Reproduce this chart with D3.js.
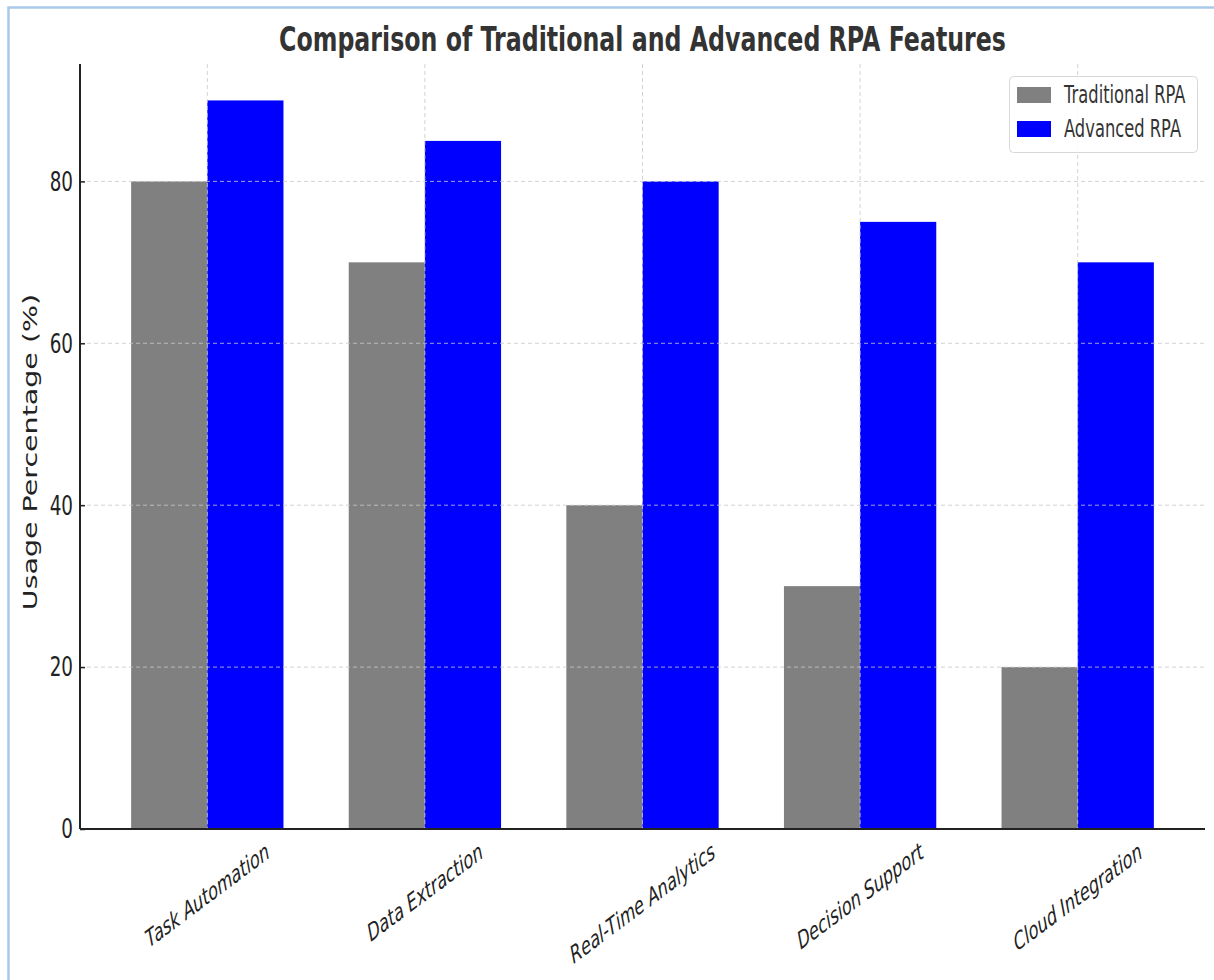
<!DOCTYPE html>
<html><head><meta charset="utf-8">
<script src="https://cdn.jsdelivr.net/npm/d3@7"></script>
<style>
body{margin:0;background:#fff;}
</style></head>
<body><svg id="c" width="1214" height="980"></svg>
<script>
const categories = ["Task Automation","Data Extraction","Real-Time Analytics","Decision Support","Cloud Integration"];
const traditional = [80,70,40,30,20];
const advanced = [90,85,80,75,70];
const seriesNames = ["Traditional RPA","Advanced RPA"];
const seriesColors = ["#808080","#0000ff"];
const yTicks = [0,20,40,60,80];

const FONT = "'DejaVu Sans', sans-serif";
const SX = 0.68; // horizontal squeeze of the reference picture

const svg = d3.select("#c");
svg.append("rect").attr("x",8.5).attr("y",7.5).attr("width",1300).attr("height",1100)
  .attr("fill","none").attr("stroke","#a9c9ea").attr("stroke-width",2.5);

const L=80, R=1205, T=64, B=829;
const x = d3.scaleLinear().domain([-0.585, categories.length-1+0.585]).range([L,R]);
const y = d3.scaleLinear().domain([0,94.5]).range([B,T]);
const bw = 0.35;

const g = svg.append("g");
const series = [traditional, advanced];
series.forEach((vals,si)=>{
  g.selectAll(".b"+si).data(vals).enter().append("rect")
    .attr("x",(d,i)=>x(i + (si===0?-bw:0)))
    .attr("width",x(bw)-x(0))
    .attr("y",d=>y(d))
    .attr("height",d=>y(0)-y(d))
    .attr("fill",seriesColors[si]);
});
// grid
g.selectAll(".hg").data(yTicks).enter().append("line")
  .attr("x1",L).attr("x2",R).attr("y1",d=>y(d)).attr("y2",d=>y(d))
  .attr("stroke","#c8c8c8").attr("stroke-width",1).attr("stroke-dasharray","4,3").attr("opacity",0.8);
g.selectAll(".vg").data(categories).enter().append("line")
  .attr("x1",(d,i)=>x(i)).attr("x2",(d,i)=>x(i)).attr("y1",T).attr("y2",B)
  .attr("stroke","#c8c8c8").attr("stroke-width",1).attr("stroke-dasharray","4,3").attr("opacity",0.8);

// y axis
const ya = svg.append("g").attr("transform",`translate(${L},0)`)
  .call(d3.axisLeft(y).tickValues(yTicks).tickSize(-5).tickFormat(""));
ya.select(".domain").attr("stroke","#222").attr("stroke-width",2).attr("d",`M0,${T}V${B}`);
ya.selectAll(".tick line").attr("stroke","#222").attr("stroke-width",1.5);
yTicks.forEach(v=>{
  svg.append("text").text(v).attr("font-family",FONT).attr("font-size",27).attr("fill","#222")
    .attr("text-anchor","end").attr("dominant-baseline","central")
    .attr("transform",`translate(${L-7},${y(v)}) scale(${SX},1)`);
});

// x axis
const xa = svg.append("g").attr("transform",`translate(0,${B})`)
  .call(d3.axisBottom(x).tickValues(d3.range(categories.length)).tickSize(0).tickFormat(""));
xa.select(".domain").attr("stroke","#222").attr("stroke-width",2).attr("d",`M${L},0H${R}`);

const rot = 27, fx = 24;
categories.forEach((c,i)=>{
  const t = svg.append("text").text(c).attr("font-family",FONT).attr("font-size",fx).attr("font-style","italic")
    .attr("fill","#222").attr("text-anchor","middle").attr("dominant-baseline","central");
  const len = t.node().getComputedTextLength();
  const a = rot*Math.PI/180;
  const half = (len*Math.sin(a) + fx*0.9*Math.cos(a))/2;
  t.attr("transform",`translate(${x(i)},${840+half}) scale(${SX},1) rotate(${-rot})`);
});

// y label
svg.append("text").text("Usage Percentage (%)")
  .attr("font-family",FONT).attr("font-size",28.5).attr("fill","#222")
  .attr("text-anchor","middle").attr("dominant-baseline","central")
  .attr("transform",`translate(30,452) scale(${SX},1) rotate(-90)`);

// title
svg.append("text").text("Comparison of Traditional and Advanced RPA Features")
  .attr("font-family",FONT).attr("text-anchor","middle")
  .attr("font-size",33).attr("font-weight","bold").attr("fill","#333")
  .attr("transform",`translate(${(L+R)/2},51) scale(0.718,1)`);

// legend
const lg = svg.append("g");
lg.append("rect").attr("x",1009.5).attr("y",76.5).attr("width",188).attr("height",76).attr("rx",4)
  .attr("fill","#fff").attr("fill-opacity",0.85).attr("stroke","#d8d8d8");
seriesNames.forEach((n,i)=>{
  lg.append("rect").attr("x",1017).attr("y",87+i*34).attr("width",34).attr("height",16).attr("fill",seriesColors[i]);
  lg.append("text").text(n).attr("font-family",FONT).attr("dominant-baseline","central")
    .attr("font-size",24).attr("fill","#333")
    .attr("transform",`translate(1064,${95+i*34}) scale(${SX},1)`);
});
</script></body></html>
